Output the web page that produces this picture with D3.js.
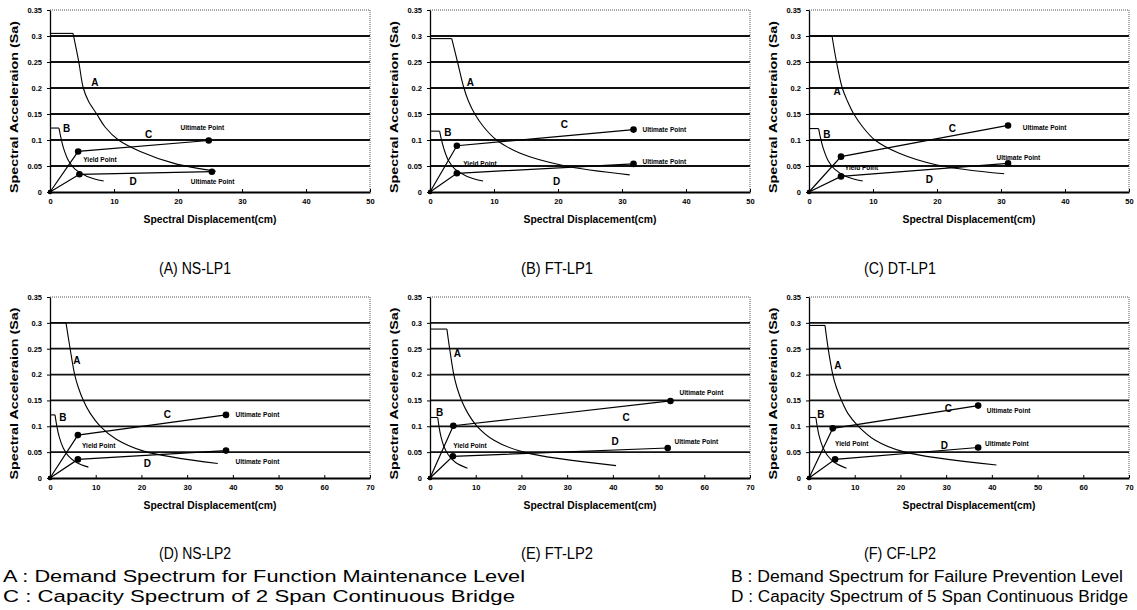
<!DOCTYPE html>
<html>
<head>
<meta charset="utf-8">
<script src="https://cdn.jsdelivr.net/npm/d3@7"></script>
<style>
  body { margin: 0; background: #fff; }
  text { font-family: "Liberation Sans", Arial, sans-serif; fill: #000; }
</style>
</head>
<body>
<svg id="chart" width="1137" height="610"></svg>
<script>
// ---- data: [Sd (cm), Sa] ----
var panel_names = ["(A) NS-LP1", "(B) FT-LP1", "(C) DT-LP1", "(D) NS-LP2", "(E) FT-LP2", "(F) CF-LP2"];
var x_max = [50, 50, 50, 70, 70, 70];
var x_ticks_short = [0, 10, 20, 30, 40, 50];
var x_ticks_long = [0, 10, 20, 30, 40, 50, 60, 70];
var y_ticks = [0, 0.05, 0.1, 0.15, 0.2, 0.25, 0.3, 0.35];

// A : demand spectrum, function maintenance level (first two points = plateau)
var demand_a = [
    [[0, 0.305], [3.6, 0.305], [4.5, 0.25], [5.2, 0.2], [6.0, 0.175], [7.3, 0.15], [8.6, 0.125], [10.7, 0.1], [14.1, 0.078], [19.4, 0.055], [25.9, 0.04]],
    [[0, 0.295], [3.4, 0.295], [4.3, 0.25], [5.3, 0.2], [6.0, 0.175], [7.0, 0.15], [8.4, 0.125], [10.4, 0.1], [14, 0.075], [20.8, 0.051], [31.2, 0.033]],
    [[0, 0.3], [3.6, 0.3], [4.3, 0.25], [5.2, 0.2], [6.0, 0.175], [7.0, 0.15], [8.4, 0.125], [10.3, 0.1], [14, 0.075], [20, 0.052], [30.5, 0.035]],
    [[0, 0.3], [3.5, 0.3], [4.4, 0.25], [5.4, 0.2], [6.2, 0.175], [7.3, 0.15], [8.8, 0.125], [11, 0.1], [14.5, 0.075], [20.5, 0.052], [36.7, 0.028]],
    [[0, 0.288], [3.7, 0.288], [4.3, 0.25], [5.2, 0.2], [5.9, 0.175], [6.9, 0.15], [8.3, 0.125], [10.3, 0.1], [14, 0.073], [20.5, 0.05], [40.7, 0.024]],
    [[0, 0.295], [3.5, 0.295], [4.2, 0.25], [5.2, 0.2], [6.0, 0.175], [7.1, 0.15], [8.5, 0.125], [10.8, 0.1], [14.5, 0.073], [20.6, 0.051], [41, 0.025]]
];
// B : demand spectrum, failure prevention level (first two points = plateau)
var demand_b = [
    [[0, 0.123], [1.4, 0.123], [1.7, 0.105], [2.1, 0.085], [2.9, 0.06], [3.9, 0.044], [5.8, 0.03], [8.4, 0.021]],
    [[0, 0.117], [1.5, 0.117], [1.8, 0.1], [2.2, 0.082], [2.9, 0.06], [3.9, 0.044], [5.8, 0.03], [8.3, 0.021]],
    [[0, 0.122], [1.5, 0.122], [1.8, 0.104], [2.2, 0.085], [3.0, 0.06], [4.0, 0.044], [5.8, 0.03], [8.4, 0.021]],
    [[0, 0.122], [1.1, 0.122], [1.5, 0.1], [2.0, 0.08], [2.9, 0.058], [4.0, 0.043], [5.8, 0.03], [8.4, 0.021]],
    [[0, 0.117], [1.7, 0.117], [2.0, 0.098], [2.4, 0.08], [3.0, 0.062], [4.0, 0.045], [5.6, 0.03], [8.2, 0.019]],
    [[0, 0.117], [1.5, 0.117], [1.8, 0.1], [2.2, 0.082], [3.0, 0.06], [4.0, 0.044], [5.6, 0.03], [8.2, 0.019]]
];
// C : capacity spectrum, 2 span bridge (origin, yield, ultimate)
var capacity_c = [
    [[0, 0], [4.4, 0.078], [24.8, 0.099]],
    [[0, 0], [4.2, 0.089], [31.8, 0.12]],
    [[0, 0], [5.0, 0.068], [31.1, 0.128]],
    [[0, 0], [6.1, 0.083], [38.5, 0.122]],
    [[0, 0], [5.1, 0.101], [52.6, 0.149]],
    [[0, 0], [5.2, 0.096], [37, 0.14]]
];
// D : capacity spectrum, 5 span bridge
var capacity_d = [
    [[0, 0], [4.6, 0.034], [25.3, 0.039]],
    [[0, 0], [4.2, 0.036], [31.8, 0.054]],
    [[0, 0], [5.0, 0.03], [31.1, 0.055]],
    [[0, 0], [6.1, 0.036], [38.5, 0.053]],
    [[0, 0], [5.0, 0.042], [52, 0.058]],
    [[0, 0], [5.7, 0.036], [37, 0.059]]
];

// label anchors in data units: A, B, C, D letters
var letter_names = ["A", "B", "C", "D"];
var letter_pos = [
    [[7, 0.21], [2.6, 0.123], [15.4, 0.11], [13, 0.021]],
    [[6.3, 0.21], [2.8, 0.115], [21, 0.129], [19.8, 0.02]],
    [[4.4, 0.193], [2.8, 0.11], [22.4, 0.123], [18.8, 0.025]],
    [[5.9, 0.227], [2.8, 0.117], [25.7, 0.122], [21.3, 0.029]],
    [[6, 0.24], [2.1, 0.127], [42.9, 0.117], [40.5, 0.07]],
    [[6.3, 0.217], [2.6, 0.122], [30.5, 0.135], [29.6, 0.063]]
];
// "Ultimate Point" (C), "Ultimate Point" (D), "Yield Point" text starts
var ultimate_c_pos = [[20.4, 0.123], [33.2, 0.119], [33.4, 0.123], [40.6, 0.122], [54.6, 0.164], [38.9, 0.131]];
var ultimate_d_pos = [[22, 0.02], [33.2, 0.058], [29.3, 0.065], [40.6, 0.031], [53.5, 0.07], [38.5, 0.067]];
var yield_pos = [[5.2, 0.063], [5.2, 0.055], [5.6, 0.047], [7, 0.062], [5.1, 0.063], [5.7, 0.067]];

var legend_left = ["A : Demand Spectrum for Function Maintenance Level", "C : Capacity Spectrum of 2 Span Continuous Bridge"];
var legend_right = ["B : Demand Spectrum for Failure Prevention Level", "D : Capacity Spectrum of 5 Span Continuous Bridge"];

// ---- layout ----
var col_left = [50, 430, 809];
var col_right = [370, 750, 1129];
var row_top = [10, 297];
var row_bottom = [192, 478];
var caption_x = [195, 557, 900];
var caption_y = [274, 559];

const svg = d3.select("#chart");

var smooth_line = d3.line().curve(d3.curveCatmullRom.alpha(0.5));
var straight_line = d3.line();

d3.range(6).forEach(function(i) {
    var col = i % 3, row = Math.floor(i / 3);
    var x = d3.scaleLinear().domain([0, x_max[i]]).range([col_left[col], col_right[col]]);
    var y = d3.scaleLinear().domain([0, 0.35]).range([row_bottom[row], row_top[row]]);
    var g = svg.append("g").attr("class", "panel");

    // horizontal grid
    g.selectAll("line.grid")
        .data(y_ticks.slice(1, 7))
        .enter().append("line")
        .attr("class", "grid")
        .attr("x1", x(0)).attr("x2", x(x_max[i]))
        .attr("y1", function(d) { return y(d); })
        .attr("y2", function(d) { return y(d); })
        .attr("stroke", "#111").attr("stroke-width", 1.8);

    // dotted frame top / right
    g.append("line")
        .attr("x1", x(0)).attr("x2", x(x_max[i]))
        .attr("y1", y(0.35)).attr("y2", y(0.35))
        .attr("stroke", "#555").attr("stroke-width", 1).attr("stroke-dasharray", "1,1");
    g.append("line")
        .attr("x1", x(x_max[i])).attr("x2", x(x_max[i]))
        .attr("y1", y(0.35)).attr("y2", y(0))
        .attr("stroke", "#555").attr("stroke-width", 1).attr("stroke-dasharray", "1,1");

    // axes
    var x_axis = d3.axisBottom(x)
        .tickValues(x_max[i] == 50 ? x_ticks_short : x_ticks_long)
        .tickSizeInner(-3).tickSizeOuter(0).tickPadding(7);
    var gx = g.append("g").attr("transform", "translate(0," + y(0) + ")").call(x_axis);
    gx.select(".domain").attr("stroke", "#000").attr("stroke-width", 2);
    gx.selectAll("text").attr("font-size", "7.5px").attr("font-weight", "bold")
        .attr("font-family", "Liberation Sans, Arial, sans-serif");

    var y_axis = d3.axisLeft(y).tickValues(y_ticks)
        .tickFormat(function(d) { return String(+d.toFixed(2)); })
        .tickSizeInner(3).tickSizeOuter(0).tickPadding(5);
    var gy = g.append("g").attr("transform", "translate(" + x(0) + ",0)").call(y_axis);
    gy.select(".domain").attr("stroke", "#000").attr("stroke-width", 1.3);
    gy.selectAll("text").attr("font-size", "7.5px").attr("font-weight", "bold")
        .attr("font-family", "Liberation Sans, Arial, sans-serif");

    // axis titles
    g.append("text")
        .attr("x", (x(0) + x(x_max[i])) / 2).attr("y", y(0) + 31)
        .attr("text-anchor", "middle")
        .attr("font-size", "10px").attr("font-weight", "bold")
        .attr("textLength", 133).attr("lengthAdjust", "spacingAndGlyphs")
        .text("Spectral Displacement(cm)");
    g.append("text")
        .attr("transform", "translate(" + (x(0) - 32) + "," + ((y(0) + y(0.35)) / 2 + 6) + ") rotate(-90)")
        .attr("text-anchor", "middle")
        .attr("font-size", "11px").attr("font-weight", "bold")
        .attr("textLength", 172).attr("lengthAdjust", "spacingAndGlyphs")
        .text("Spectral Acceleraion (Sa)");

    // demand curves: straight plateau, then a smooth fall through the read points
    var to_px = function(p) { return [x(p[0]), y(p[1])]; };
    [demand_a[i], demand_b[i]].forEach(function(dem) {
        g.append("path").attr("d", straight_line(dem.slice(0, 2).map(to_px)))
            .attr("fill", "none").attr("stroke", "#000").attr("stroke-width", 1.1);
        g.append("path").attr("d", smooth_line(dem.slice(1).map(to_px)))
            .attr("fill", "none").attr("stroke", "#000").attr("stroke-width", 1.1);
    });

    // capacity curves with yield / ultimate markers
    [capacity_c[i], capacity_d[i]].forEach(function(cap) {
        g.append("path").attr("d", straight_line(cap.map(to_px)))
            .attr("fill", "none").attr("stroke", "#000").attr("stroke-width", 1.2);
        g.selectAll(null).data(cap).enter().append("circle")
            .attr("cx", function(d) { return x(d[0]); })
            .attr("cy", function(d) { return y(d[1]); })
            .attr("r", function(d, k) { return k == 0 ? 2.2 : 3.3; })
            .attr("fill", "#000");
    });

    // letters
    g.selectAll("text.letter").data(letter_pos[i]).enter().append("text")
        .attr("class", "letter")
        .attr("x", function(d) { return x(d[0]); })
        .attr("y", function(d) { return y(d[1]); })
        .attr("dy", "0.35em").attr("text-anchor", "middle")
        .attr("font-size", "10px").attr("font-weight", "bold")
        .text(function(d, k) { return letter_names[k]; });

    // point notes
    var notes = [
        { p: ultimate_c_pos[i], t: "Ultimate Point" },
        { p: ultimate_d_pos[i], t: "Ultimate Point" },
        { p: yield_pos[i], t: "Yield Point" }
    ];
    g.selectAll("text.note").data(notes).enter().append("text")
        .attr("class", "note")
        .attr("x", function(d) { return x(d.p[0]); })
        .attr("y", function(d) { return y(d.p[1]); })
        .attr("dy", "0.35em")
        .attr("font-size", "6.5px").attr("font-weight", "bold")
        .text(function(d) { return d.t; });

    // caption
    svg.append("text")
        .attr("x", caption_x[col]).attr("y", caption_y[row])
        .attr("text-anchor", "middle")
        .attr("font-size", "16px")
        .attr("textLength", 72).attr("lengthAdjust", "spacingAndGlyphs")
        .text(panel_names[i]);
});

// legend
svg.selectAll("text.legend-l").data(legend_left).enter().append("text")
    .attr("class", "legend-l")
    .attr("x", 3).attr("y", function(d, k) { return 582 + k * 20; })
    .attr("font-size", "16px")
    .attr("textLength", function(d, k) { return k == 0 ? 522 : 512; })
    .attr("lengthAdjust", "spacingAndGlyphs")
    .text(function(d) { return d; });
svg.selectAll("text.legend-r").data(legend_right).enter().append("text")
    .attr("class", "legend-r")
    .attr("x", 731).attr("y", function(d, k) { return 582 + k * 20; })
    .attr("font-size", "16px")
    .attr("textLength", function(d, k) { return k == 0 ? 392 : 397; })
    .attr("lengthAdjust", "spacingAndGlyphs")
    .text(function(d) { return d; });
</script>
</body>
</html>
